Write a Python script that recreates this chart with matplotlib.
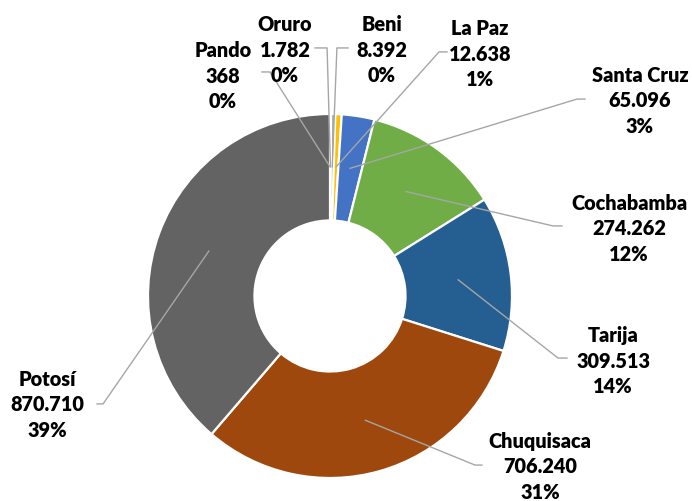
import numpy as np
import matplotlib
matplotlib.use("Agg")
import matplotlib.pyplot as plt

departments = ["Pando", "Oruro", "Beni", "La Paz", "Santa Cruz",
               "Cochabamba", "Tarija", "Chuquisaca", "Potosí"]
values = [368, 1782, 8392, 12638, 65096, 274262, 309513, 706240, 870710]
colors = ["#5B9BD5", "#ED7D31", "#A5A5A5", "#FFC000", "#4472C4",
          "#70AD47", "#255E91", "#9E480E", "#636363"]

# label layout (data units, pie radius = 1)
text_pos = [(-0.588, 1.214), (-0.247, 1.357), (0.286, 1.357), (0.824, 1.335),
            (1.703, 1.077), (1.643, 0.374), (1.555, -0.352), (1.154, -0.934),
            (-1.555, -0.593)]
line_start = [(-0.374, 1.231), (-0.082, 1.363), (0.099, 1.363), (0.643, 1.341),
              (1.401, 1.082), (1.275, 0.385), (1.302, -0.341), (0.835, -0.929),
              (-1.280, -0.593)]
stub_end_x = [-0.330, -0.016, 0.038, 0.599, 1.357, 1.225, 1.253, 0.797, -1.247]

fig = plt.figure(figsize=(6.92, 5.02), dpi=100)
ax = fig.add_axes([148 / 692, 23 / 502, 364 / 692, 364 / 502])

wedges, _ = ax.pie(values, colors=colors, startangle=90, counterclock=False,
                   radius=1, wedgeprops=dict(width=0.585, edgecolor="white", linewidth=1.6))
ax.set_xlim(-1, 1)
ax.set_ylim(-1, 1)
ax.set_aspect("equal")
ax.axis("off")

total = sum(values)
for i, w in enumerate(wedges):
    ang = np.deg2rad((w.theta1 + w.theta2) / 2)
    px, py = 0.71 * np.cos(ang), 0.71 * np.sin(ang)
    sx, sy = line_start[i]
    ex = stub_end_x[i]
    ax.plot([sx, ex, px], [sy, sy, py], color="#A6A6A6", lw=1.0, clip_on=False, zorder=3)
    num = f"{values[i]:,}".replace(",", ".")
    pct = f"{round(values[i] / total * 100)}%"
    tx, ty = text_pos[i]
    ax.text(tx, ty, f"{departments[i]}\n{num}\n{pct}", ha="center", va="center",
            fontsize=14.3, fontweight="heavy", family="Lato", linespacing=1.38,
            color="black", clip_on=False)

fig.savefig("out.png", dpi=100)
